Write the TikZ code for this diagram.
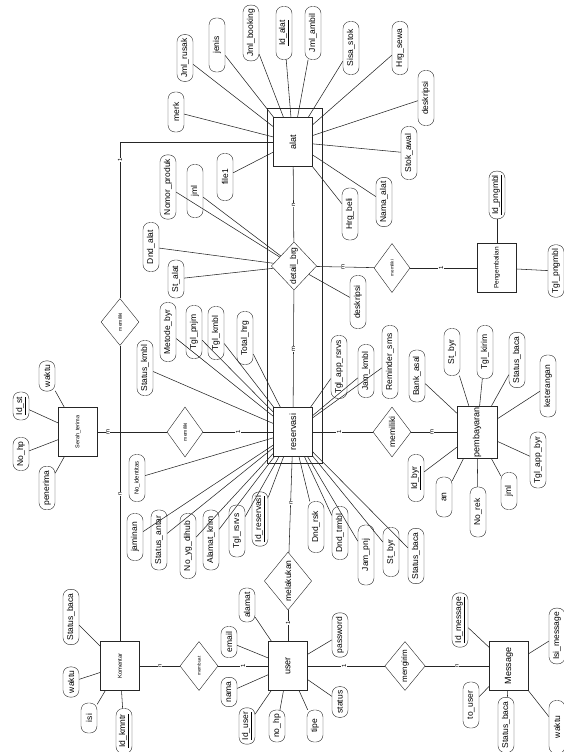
\documentclass[tikz,border=0pt]{standalone}
\usepackage{fontspec}
\setmainfont{Liberation Sans}
\usetikzlibrary{shapes.geometric}

\begin{document}
\begin{tikzpicture}[
                x=1pt, y=-1pt,
                entity/.style={
                    draw=black!85,
                    rectangle,
                    rotate=90,
                    minimum width=49pt,
                    minimum height=39pt,
                    inner sep=1pt,
                    font=\fontsize{9}{10}\selectfont
                },
                attr/.style={
                    draw=black!85,
                    rectangle,
                    rounded corners=7pt,
                    rotate=90,
                    minimum width=53pt,
                    minimum height=16pt,
                    inner xsep=4pt,
                    inner ysep=1pt,
                    font=\fontsize{8.5}{9}\selectfont
                },
                rel/.style={
                    draw=black!85,
                    diamond,
                    rotate=90,
                    minimum width=49pt,
                    minimum height=38pt,
                    inner sep=0pt,
                    font=\fontsize{8}{9}\selectfont
                },
                card/.style={
                    fill=white,
                    rotate=90,
                    inner sep=0.8pt,
                    font=\fontsize{6}{6}\selectfont
                },
                line/.style={
                    draw=black!85,
                    line width=0.55pt
                }
            ]
                \useasboundingbox (0,0) rectangle (564,752);

                % entitas
                \node[entity] (alat) at (293,142) {alat};
                \node[entity] (reservasi) at (293,432) {reservasi};
                \node[entity] (user) at (288,666) {user};
                \node[entity, font=\fontsize{5.8}{6}\selectfont] (komentar) at (120,666) {Komentar};
                \node[entity, font=\fontsize{5.5}{6}\selectfont] (serah) at (78,432) {Serah\_terima};
                \node[entity] (message) at (509,666) {Message};
                \node[entity, minimum height=40pt, minimum width=50pt] (pembayaran) at (477,432) {pembayaran};
                \node[entity, font=\fontsize{6.5}{7}\selectfont] (pengembalian) at (497,268) {Pengembalian};
                \node[draw=black!85, minimum width=55pt, minimum height=355pt] (agregasi) at (294.5,285.5) {};

                % relasi
                \node[rel, font=\fontsize{5}{6}\selectfont, minimum width=47pt] (memAlat) at (120,322) {memiliki};
                \node[rel, font=\fontsize{5}{6}\selectfont, minimum height=36pt, minimum width=50pt] (memSerah) at (185,432) {memiliki};
                \node[rel, font=\fontsize{8.5}{9}\selectfont, minimum width=48pt, minimum height=37pt] (detailBrg) at (294,266) {detail\_brg};
                \node[rel, font=\fontsize{4.5}{5}\selectfont, minimum height=36pt] (memKembali) at (392,268) {memiliki};
                \node[rel, font=\fontsize{8.5}{9}\selectfont, minimum width=50pt] (memBayar) at (392,432) {memiliki};
                \node[rel, font=\fontsize{8.5}{9}\selectfont, minimum width=58pt, minimum height=39pt] (melakukan) at (288,581) {melakukan};
                \node[rel, font=\fontsize{4.5}{5}\selectfont] (membuat) at (199,666) {membuat};
                \node[rel, minimum height=37pt] (mengirim) at (405,666) {mengirim};

                % atribut alat
                \node[attr, minimum width=43pt] (jmlrusak) at (185,58) {Jml\_rusak};
                \node[attr, minimum width=40pt] (merk) at (176,112) {merk};
                \node[attr, minimum width=54pt] (jenis) at (217,45) {jenis};
                \node[attr] (jmlbooking) at (251,33) {Jml\_booking};
                \node[attr] (idalat) at (284,33) {\underline{Id\_alat}};
                \node[attr] (jmlambil) at (313,33) {Jml\_ambil};
                \node[attr] (sisastok) at (351,48) {Sisa\_stok};
                \node[attr] (hrgsewa) at (400,48) {Hrg\_sewa};
                \node[attr, minimum width=55pt] (deskalat) at (426,98) {deskripsi};
                \node[attr] (stokawal) at (409,153) {Stok\_awal};
                \node[attr, minimum width=48pt] (namaalat) at (384,202) {Nama\_alat};
                \node[attr, minimum width=52pt] (hrgbeli) at (350,214) {Hrg\_beli};
                \node[attr, minimum width=47pt] (file1) at (225,177) {file1};

                % atribut detail_brg
                \node[attr, minimum width=63pt] (nomorproduk) at (168,187) {Nomor\_produk};
                \node[attr] (jmldetail) at (195,191) {jml};
                \node[attr, minimum width=49pt] (dndalat) at (151,247) {Dnd\_alat};
                \node[attr, minimum width=38pt] (stalat) at (176,279) {St\_alat};
                \node[attr] (deskdetail) at (358,302) {deskripsi};

                % atribut pengembalian
                \node[attr, minimum width=46pt] (idpngmbl) at (497,195) {\underline{Id\_pngmbl}};
                \node[attr, minimum width=47pt] (tglpngmbl) at (556,271) {Tgl\_pngmbl};

                % atribut reservasi
                \node[attr, minimum width=55pt] (statuskmbl) at (145,368) {Status\_kmbl};
                \node[attr, minimum width=59pt] (metodebyr) at (168,332) {Metode\_byr};
                \node[attr] (tglpnjm) at (194,332) {Tgl\_pnjm};
                \node[attr] (tglkmbl) at (216,333) {Tgl\_kmbl};
                \node[attr] (totalhrg) at (245,338) {Total\_hrg};
                \node[attr, minimum width=63pt] (tglapprsrvs) at (339,367) {Tgl\_app\_rsrvs};
                \node[attr] (jamkmbl) at (366,371) {Jam\_kmbl};
                \node[attr, minimum width=73pt] (remindersms) at (390,362) {Reminder\_sms};
                \node[attr, minimum width=47pt, font=\fontsize{6}{6}\selectfont] (noidentitas) at (137,478) {No\_identitas};
                \node[attr, minimum width=47pt] (jaminan) at (135,537) {jaminan};
                \node[attr, minimum width=60pt] (statusantar) at (159,540) {Status\_antar};
                \node[attr, minimum width=65pt] (noygdihub) at (188,546) {No\_yg\_dihub};
                \node[attr, minimum width=60pt] (alamatkrim) at (211,540) {Alamat\_krim};
                \node[attr, minimum width=52pt] (tglrsrvs) at (237,531) {Tgl\_rsrvs};
                \node[attr, minimum width=52pt] (idreservasi) at (260,519) {\underline{Id\_reservasi}};
                \node[attr, minimum width=51pt] (dndrsk) at (316,527) {Dnd\_rsk};
                \node[attr] (dndtrmbl) at (340,533) {Dnd\_trmbl};
                \node[attr, minimum width=60pt] (jampnj) at (366,555) {Jam\_pnj};
                \node[attr, minimum width=49pt] (stbyrresv) at (391,552) {St\_byr};
                \node[attr, minimum width=55pt] (statusbacaresv) at (416,556) {Status\_baca};

                % atribut pembayaran
                \node[attr, minimum width=52pt] (bankasal) at (417,376) {Bank\_asal};
                \node[attr, minimum width=47pt] (stbyr) at (452,352) {St\_byr};
                \node[attr] (tglkirim) at (485,352) {Tgl\_kirim};
                \node[attr, minimum width=54pt] (statusbacabyr) at (517,360) {Status\_baca};
                \node[attr, minimum width=62pt] (keterangan) at (548,386) {keterangan};
                \node[attr, minimum width=56pt] (tglappbyr) at (538,460) {Tgl\_app\_byr};
                \node[attr, minimum width=37pt] (jmlbyr) at (509,491) {jml};
                \node[attr, minimum width=50pt] (norek) at (478,512) {No\_rek};
                \node[attr, minimum width=40pt] (an) at (444,497) {an};
                \node[attr, minimum width=47pt] (idbyr) at (416,478) {\underline{Id\_byr}};

                % atribut serah terima
                \node[attr, minimum width=28pt] (idst) at (21,406) {\underline{Id\_st}};
                \node[attr, minimum width=32pt] (nohpst) at (21,454) {No\_hp};
                \node[attr, minimum width=40pt] (penerima) at (47,488) {penerima};
                \node[attr, minimum width=28pt] (waktust) at (47,376) {waktu};

                % atribut komentar
                \node[attr] (statusbacakm) at (71,617) {Status\_baca};
                \node[attr, minimum width=30pt] (waktukm) at (71,682) {waktu};
                \node[attr, minimum width=30pt] (isi) at (89,718) {isi};
                \node[attr, minimum width=45pt] (idkmntr) at (124,731) {\underline{Id\_kmntr}};

                % atribut user
                \node[attr, minimum width=34pt] (alamat) at (247,605) {alamat};
                \node[attr, minimum width=31pt] (email) at (229,642) {email};
                \node[attr, minimum width=29pt] (nama) at (229,692) {nama};
                \node[attr, minimum width=32pt] (iduser) at (247,726) {\underline{Id\_user}};
                \node[attr, minimum width=32pt] (nohp) at (277,726) {no\_hp};
                \node[attr, minimum width=32pt] (tipe) at (315,726) {tipe};
                \node[attr, minimum width=30pt] (status) at (340,702) {status};
                \node[attr, minimum width=40pt] (password) at (340,635) {password};

                % atribut message
                \node[attr, minimum width=54pt] (idmessage) at (460,620) {\underline{Id\_message}};
                \node[attr] (isimessage) at (557,636) {Isi\_message};
                \node[attr, minimum width=46pt] (touser) at (471,705) {to\_user};
                \node[attr] (statusbacamsg) at (506,725) {Status\_baca};
                \node[attr] (waktumsg) at (557,727) {waktu};

                % garis relasi
                \coordinate (sudut) at (120,142);
                \draw[line] (komentar) -- (memAlat);
                \draw[line] (memAlat) -- (sudut) -- (alat);
                \draw[line] (serah) -- (memSerah);
                \draw[line] (memSerah) -- (reservasi);
                \draw[line] (alat) -- (detailBrg);
                \draw[line] (detailBrg) -- (reservasi);
                \draw[line] (detailBrg) -- (memKembali);
                \draw[line] (memKembali) -- (pengembalian);
                \draw[line] (reservasi) -- (memBayar);
                \draw[line] (memBayar) -- (pembayaran);
                \draw[line] (reservasi) -- (melakukan);
                \draw[line] (melakukan) -- (user);
                \draw[line] (komentar) -- (membuat);
                \draw[line] (membuat) -- (user);
                \draw[line] (user) -- (mengirim);
                \draw[line] (mengirim) -- (message);

                % kardinalitas
                \node[card] (crdA) at (120,160) {1};
                \node[card] (crdB) at (120,494) {n};
                \node[card] (crdC) at (108,432) {m};
                \node[card] (crdD) at (238,432) {1};
                \node[card] (crdE) at (293.5,205) {n};
                \node[card] (crdF) at (293.5,349) {m};
                \node[card] (crdG) at (343,266.5) {m};
                \node[card] (crdH) at (441,268) {1};
                \node[card] (crdI) at (339,432) {1};
                \node[card] (crdJ) at (432,432) {m};
                \node[card] (crdK) at (291,503) {n};
                \node[card] (crdL) at (288,623) {1};
                \node[card] (crdM) at (160,666) {n};
                \node[card] (crdN) at (243,666) {1};
                \node[card] (crdO) at (344,666) {1};
                \node[card] (crdP) at (457,666) {n};

                % garis atribut alat
                \draw[line] (jmlrusak) -- (alat);
                \draw[line] (merk) -- (alat);
                \draw[line] (jenis) -- (alat);
                \draw[line] (jmlbooking) -- (alat);
                \draw[line] (idalat) -- (alat);
                \draw[line] (jmlambil) -- (alat);
                \draw[line] (sisastok) -- (alat);
                \draw[line] (hrgsewa) -- (alat);
                \draw[line] (deskalat) -- (alat);
                \draw[line] (stokawal) -- (alat);
                \draw[line] (namaalat) -- (alat);
                \draw[line] (hrgbeli) -- (alat);
                \draw[line] (file1) -- (alat);

                % garis atribut detail_brg
                \draw[line] (nomorproduk) -- (detailBrg);
                \draw[line] (jmldetail) -- (detailBrg);
                \draw[line] (dndalat) -- (detailBrg);
                \draw[line] (stalat) -- (detailBrg);
                \draw[line] (deskdetail) -- (detailBrg);

                % garis atribut pengembalian
                \draw[line] (idpngmbl) -- (pengembalian);
                \draw[line] (tglpngmbl) -- (pengembalian);

                % garis atribut reservasi
                \draw[line] (statuskmbl) -- (reservasi);
                \draw[line] (metodebyr) -- (reservasi);
                \draw[line] (tglpnjm) -- (reservasi);
                \draw[line] (tglkmbl) -- (reservasi);
                \draw[line] (totalhrg) -- (reservasi);
                \draw[line] (tglapprsrvs) -- (reservasi);
                \draw[line] (jamkmbl) -- (reservasi);
                \draw[line] (remindersms) -- (reservasi);
                \draw[line] (noidentitas) -- (reservasi);
                \draw[line] (jaminan) -- (reservasi);
                \draw[line] (statusantar) -- (reservasi);
                \draw[line] (noygdihub) -- (reservasi);
                \draw[line] (alamatkrim) -- (reservasi);
                \draw[line] (tglrsrvs) -- (reservasi);
                \draw[line] (idreservasi) -- (reservasi);
                \draw[line] (dndrsk) -- (reservasi);
                \draw[line] (dndtrmbl) -- (reservasi);
                \draw[line] (jampnj) -- (reservasi);
                \draw[line] (stbyrresv) -- (reservasi);
                \draw[line] (statusbacaresv) -- (reservasi);

                % garis atribut pembayaran
                \draw[line] (bankasal) -- (pembayaran);
                \draw[line] (stbyr) -- (pembayaran);
                \draw[line] (tglkirim) -- (pembayaran);
                \draw[line] (statusbacabyr) -- (pembayaran);
                \draw[line] (keterangan) -- (pembayaran);
                \draw[line] (tglappbyr) -- (pembayaran);
                \draw[line] (jmlbyr) -- (pembayaran);
                \draw[line] (norek) -- (pembayaran);
                \draw[line] (an) -- (pembayaran);
                \draw[line] (idbyr) -- (pembayaran);

                % garis atribut serah terima
                \draw[line] (idst) -- (serah);
                \draw[line] (nohpst) -- (serah);
                \draw[line] (penerima) -- (serah);
                \draw[line] (waktust) -- (serah);

                % garis atribut komentar
                \draw[line] (statusbacakm) -- (komentar);
                \draw[line] (waktukm) -- (komentar);
                \draw[line] (isi) -- (komentar);
                \draw[line] (idkmntr) -- (komentar);

                % garis atribut user
                \draw[line] (alamat) -- (user);
                \draw[line] (email) -- (user);
                \draw[line] (nama) -- (user);
                \draw[line] (iduser) -- (user);
                \draw[line] (nohp) -- (user);
                \draw[line] (tipe) -- (user);
                \draw[line] (status) -- (user);
                \draw[line] (password) -- (user);

                % garis atribut message
                \draw[line] (idmessage) -- (message);
                \draw[line] (isimessage) -- (message);
                \draw[line] (touser) -- (message);
                \draw[line] (statusbacamsg) -- (message);
                \draw[line] (waktumsg) -- (message);
        \end{tikzpicture}
\end{document}
